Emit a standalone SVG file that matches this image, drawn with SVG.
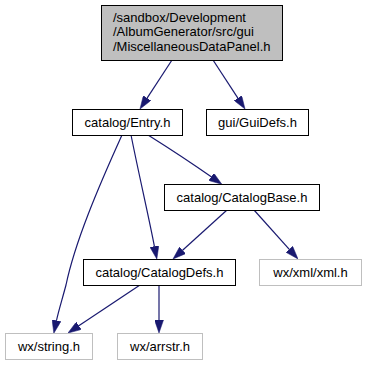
<svg xmlns="http://www.w3.org/2000/svg" width="365" height="365" viewBox="0 0 365 365">
  <defs>
    <marker id="arrow" viewBox="0 0 13 9" refX="0" refY="4.5" markerWidth="13" markerHeight="9" markerUnits="userSpaceOnUse" orient="auto">
      <path d="M0,0 L13,4.5 L0,9 z" fill="#191970" stroke="#191970" stroke-width="0.5"/>
    </marker>
    <style>
      text { font-family: "Liberation Sans", Arial, sans-serif; font-size: 13px; fill: #000; }
      .c { text-anchor: middle; }
      .box { fill: #fff; stroke: #000; stroke-width: 1; }
      .ext { fill: #fff; stroke: #bfbfbf; stroke-width: 1; }
      .root { fill: #bfbfbf; stroke: #000; stroke-width: 1; }
      .edge { fill: none; stroke: #191970; stroke-width: 1.2; marker-end: url(#arrow); }
    </style>
  </defs>
  <rect width="365" height="365" fill="#fff"/>

  <g id="edges">
    <path class="edge" d="M172,60 L147.1,98.1"/>
    <path class="edge" d="M213,60 L237.9,98.1"/>
    <path class="edge" d="M122,135 C98,188 75,242 66,285 C62,300 58.5,311 56.5,320.5"/>
    <path class="edge" d="M131,135 C139,175 149,218 154.4,246.3"/>
    <path class="edge" d="M148,135 C175,152 193,164 211.2,176.8"/>
    <path class="edge" d="M227,210 L182.6,250.3"/>
    <path class="edge" d="M254,210 L289.3,249.3"/>
    <path class="edge" d="M140,285 L78.8,325.8"/>
    <path class="edge" d="M159,285 L159,320"/>
  </g>

  <g id="node-panel">
    <rect class="root" x="101.5" y="5.5" width="181" height="55"/>
    <text x="113" y="21.5">/sandbox/Development</text>
    <text x="113" y="36">/AlbumGenerator/src/gui</text>
    <text x="113" y="50.5">/MiscellaneousDataPanel.h</text>
  </g>
  <g id="node-entry">
    <rect class="box" x="72.5" y="109.5" width="110" height="26"/>
    <text class="c" x="127.5" y="127">catalog/Entry.h</text>
  </g>
  <g id="node-guidefs">
    <rect class="box" x="206.5" y="109.5" width="102" height="26"/>
    <text class="c" x="257.5" y="127">gui/GuiDefs.h</text>
  </g>
  <g id="node-catalogbase">
    <rect class="box" x="164.5" y="184.5" width="155" height="26"/>
    <text class="c" x="242" y="202">catalog/CatalogBase.h</text>
  </g>
  <g id="node-catalogdefs">
    <rect class="box" x="83.5" y="259.5" width="152" height="26"/>
    <text class="c" x="159.5" y="277">catalog/CatalogDefs.h</text>
  </g>
  <g id="node-xml">
    <rect class="ext" x="259.5" y="259.5" width="102" height="26"/>
    <text class="c" x="310.5" y="277">wx/xml/xml.h</text>
  </g>
  <g id="node-string">
    <rect class="ext" x="5.5" y="333.5" width="87" height="26"/>
    <text class="c" x="49" y="351">wx/string.h</text>
  </g>
  <g id="node-arrstr">
    <rect class="ext" x="117.5" y="333.5" width="85" height="26"/>
    <text class="c" x="160" y="351">wx/arrstr.h</text>
  </g>
</svg>
